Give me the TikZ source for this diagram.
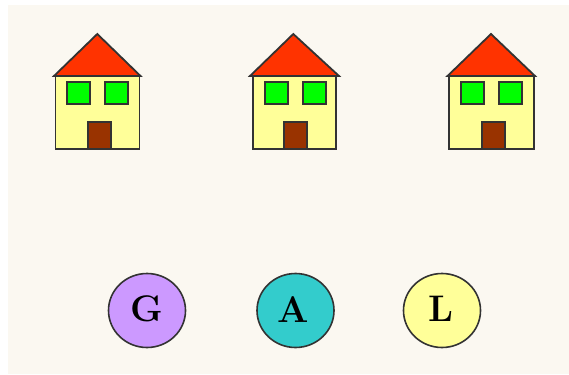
\documentclass[tikz,border=0pt]{standalone}
\usetikzlibrary{shapes.geometric}
\definecolor{panel}{HTML}{FBF8F1}
\definecolor{roofc}{HTML}{FF3300}
\definecolor{wallc}{HTML}{FFFF99}
\definecolor{windowc}{HTML}{00FF00}
\definecolor{doorc}{HTML}{993300}
\definecolor{gc}{HTML}{CC99FF}
\definecolor{ac}{HTML}{33CCCC}
\definecolor{lc}{HTML}{FFFF99}
\tikzset{
  outline/.style={draw=black!80,line width=1.8pt,line join=miter},
  person/.style={ellipse,draw=black!80,line width=1.6pt,minimum width=77pt,minimum height=74pt,inner sep=0pt,font=\fontsize{37}{37}\selectfont\bfseries,text=black}
}
\newcommand{\myhouse}[8]{%
  \draw[outline,fill=wallc] (#1,76) rectangle (#2,149);
  \draw[outline,fill=roofc] (#3,76) -- (#5,34) -- (#4,76) -- cycle;
  \draw[outline,fill=windowc] (#6,82) rectangle ++(23,22);
  \draw[outline,fill=windowc] (#7,82) rectangle ++(23,22);
  \draw[outline,fill=doorc] (#8,122) rectangle ++(23,27);
}
\begin{document}
\begin{tikzpicture}[x=1pt,y=-1pt]
\useasboundingbox (0,0) rectangle (569,374);
\fill[white] (0,0) rectangle (569,374);
\fill[panel] (8,5) rectangle (569,374);
\myhouse{55.5}{139.5}{54}{140.5}{97.3}{67}{105.3}{88.3}
\myhouse{253.3}{335.7}{250}{339}{293.3}{265}{303}{284}
\myhouse{449.3}{533.7}{447.5}{535}{491}{461}{499}{482}
\node[person,fill=gc] (g) at (147,310.5) {\raisebox{3pt}{G}};
\node[person,fill=ac] (a) at (295.5,310.5) {\hspace*{-4pt}\raisebox{2pt}{A}};
\node[person,fill=lc] (l) at (442,310.5) {\hspace*{-2pt}\raisebox{3pt}{L}};
\end{tikzpicture}
\end{document}
